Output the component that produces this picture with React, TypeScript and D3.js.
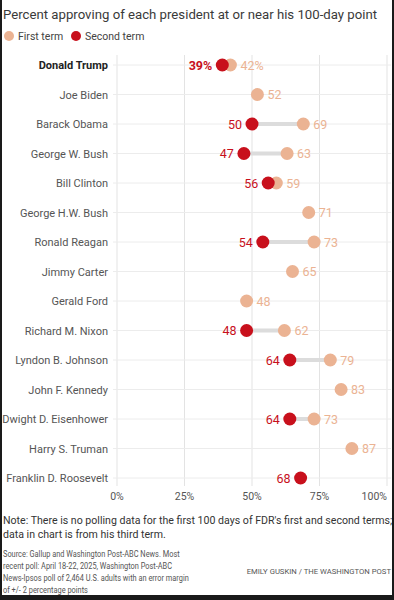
import React from "react";
import * as d3 from "d3";

// presidents, top to bottom
const presidents = [
  "Donald Trump", "Joe Biden", "Barack Obama", "George W. Bush", "Bill Clinton",
  "George H.W. Bush", "Ronald Reagan", "Jimmy Carter", "Gerald Ford",
  "Richard M. Nixon", "Lyndon B. Johnson", "John F. Kennedy",
  "Dwight D. Eisenhower", "Harry S. Truman", "Franklin D. Roosevelt",
];
// approval at ~100 days (null = no data)
const firstTerm = [42, 52, 69, 63, 59, 71, 73, 65, 48, 62, 79, 83, 73, 87, null];
const secondTerm = [39, null, 50, 47, 56, null, 54, null, null, 48, 64, null, 64, null, 68];
const ticks = [0, 25, 50, 75, 100];

const FIRST = "#ebb393";
const SECOND = "#c8101c";
const FONT = "Roboto, 'Liberation Sans', sans-serif";

export default function App() {
  const W = 394, H = 600;
  const x = d3.scaleLinear().domain([0, 100]).range([117, 387]);
  const y = d3.scalePoint().domain(presidents).range([65, 478]);
  const gridTop = 55, gridBottom = 486;

  return (
    <svg width={W} height={H} style={{ position: "absolute", left: 0, top: 0, background: "#fff" }}
      fontFamily={FONT}>
      <text x={3} y={19} fontSize={13.2} fill="#3a3a3a">
        Percent approving of each president at or near his 100-day point
      </text>
      {/* legend */}
      <circle cx={9} cy={36} r={5} fill={FIRST} />
      <text x={18} y={40} fontSize={10.5} fill="#444">First term</text>
      <circle cx={76} cy={36} r={5} fill={SECOND} />
      <text x={85} y={40} fontSize={10.5} fill="#444">Second term</text>

      {/* grid */}
      {ticks.map((t, i) => (
        <g key={t}>
          <line x1={x(t)} x2={x(t)} y1={gridTop} y2={gridBottom} stroke="#e3e3e3" strokeWidth={1} />
          <text x={x(t)} y={500} fontSize={10.5} fill="#555"
            textAnchor={i === ticks.length - 1 ? "end" : "middle"}>{t}%</text>
        </g>
      ))}
      {presidents.map(p => (
        <line key={p} x1={113} x2={391} y1={y(p)} y2={y(p)} stroke="#ececec" strokeWidth={1} />
      ))}

      {presidents.map((p, i) => {
        const cy = y(p)!;
        const f = firstTerm[i], s = secondTerm[i];
        const bold = i === 0;
        const pct = bold ? "%" : "";
        return (
          <g key={p}>
            <text x={108} y={cy + 4} fontSize={11} textAnchor="end" fill={bold ? "#222" : "#555"}
              fontWeight={bold ? 700 : 400}>{p}</text>
            {f != null && s != null && (
              <line x1={x(s)} x2={x(f)} y1={cy} y2={cy} stroke="#dcdcdc" strokeWidth={4} />
            )}
            {f != null && <circle cx={x(f)} cy={cy} r={6.5} fill={FIRST} />}
            {s != null && <circle cx={x(s)} cy={cy} r={6.5} fill={SECOND} />}
            {f != null && (
              <text x={x(f) + 10} y={cy + 4.5} fontSize={12.5} fill={FIRST}>{f}{pct}</text>
            )}
            {s != null && (
              <text x={x(s) - 10} y={cy + 4.5} fontSize={12.5} fill={SECOND} textAnchor="end"
                fontWeight={bold ? 700 : 400}>{s}{pct}</text>
            )}
          </g>
        );
      })}

      {/* notes */}
      <text fontSize={10.6} fill="#333">
        <tspan x={3} y={524}>Note: There is no polling data for the first 100 days of FDR's first and second terms;</tspan>
        <tspan x={3} y={538}>data in chart is from his third term.</tspan>
      </text>
      <g transform="translate(3,0) scale(0.86,1)">
        <text fontSize={8.6} fill="#555">
          <tspan x={0} y={557}>Source: Gallup and Washington Post-ABC News. Most</tspan>
          <tspan x={0} y={569}>recent poll: April 18-22, 2025, Washington Post-ABC</tspan>
          <tspan x={0} y={581}>News-Ipsos poll of 2,464 U.S. adults with an error margin</tspan>
          <tspan x={0} y={593}>of +/- 2 percentage points</tspan>
        </text>
      </g>
      <text x={391} y={574} fontSize={7.7} fill="#555" textAnchor="end">
        EMILY GUSKIN / THE WASHINGTON POST
      </text>

      {/* frame */}
      <rect x={0} y={0} width={2} height={H} fill="#1a1a1a" />
      <rect x={W - 2} y={0} width={2} height={H} fill="#1a1a1a" />
      <rect x={0} y={H - 5} width={W} height={5} fill="#1a1a1a" />
    </svg>
  );
}
